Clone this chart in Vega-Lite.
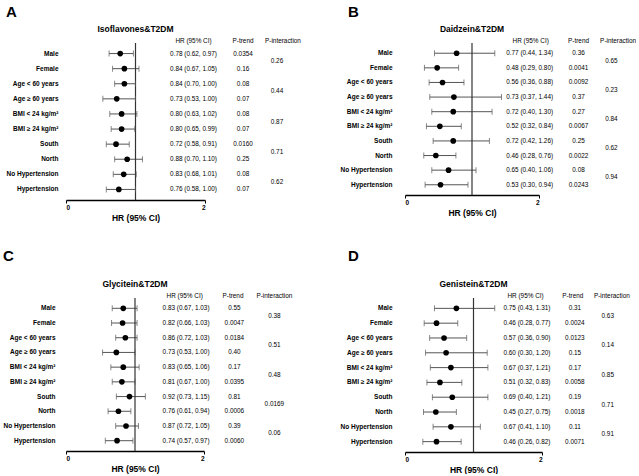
{
  "$schema": "https://vega.github.io/schema/vega-lite/v6.json",
  "padding": {"left": 2, "top": 4, "right": 0, "bottom": 0},
  "background": "white",
  "config": {
    "font": "Liberation Sans",
    "view": {"stroke": null},
    "text": {"color": "black"}
  },
  "datasets": {
    "A": [
      {"group": "Male", "hr": 0.78, "lo": 0.62, "hi": 0.97, "ci": "0.78 (0.62, 0.97)", "ptrend": "0.0354", "pint": "0.26"},
      {"group": "Female", "hr": 0.84, "lo": 0.67, "hi": 1.05, "ci": "0.84 (0.67, 1.05)", "ptrend": "0.16"},
      {"group": "Age < 60 years", "hr": 0.84, "lo": 0.70, "hi": 1.00, "ci": "0.84 (0.70, 1.00)", "ptrend": "0.08", "pint": "0.44"},
      {"group": "Age ≥ 60 years", "hr": 0.73, "lo": 0.53, "hi": 1.00, "ci": "0.73 (0.53, 1.00)", "ptrend": "0.07"},
      {"group": "BMI < 24 kg/m²", "hr": 0.80, "lo": 0.63, "hi": 1.02, "ci": "0.80 (0.63, 1.02)", "ptrend": "0.08", "pint": "0.87"},
      {"group": "BMI ≥ 24 kg/m²", "hr": 0.80, "lo": 0.65, "hi": 0.99, "ci": "0.80 (0.65, 0.99)", "ptrend": "0.07"},
      {"group": "South", "hr": 0.72, "lo": 0.58, "hi": 0.91, "ci": "0.72 (0.58, 0.91)", "ptrend": "0.0160", "pint": "0.71"},
      {"group": "North", "hr": 0.88, "lo": 0.70, "hi": 1.10, "ci": "0.88 (0.70, 1.10)", "ptrend": "0.25"},
      {"group": "No Hypertension", "hr": 0.83, "lo": 0.68, "hi": 1.01, "ci": "0.83 (0.68, 1.01)", "ptrend": "0.08", "pint": "0.62"},
      {"group": "Hypertension", "hr": 0.76, "lo": 0.58, "hi": 1.00, "ci": "0.76 (0.58, 1.00)", "ptrend": "0.07"}
    ],
    "B": [
      {"group": "Male", "hr": 0.77, "lo": 0.44, "hi": 1.34, "ci": "0.77 (0.44, 1.34)", "ptrend": "0.36", "pint": "0.65"},
      {"group": "Female", "hr": 0.48, "lo": 0.29, "hi": 0.80, "ci": "0.48 (0.29, 0.80)", "ptrend": "0.0041"},
      {"group": "Age < 60 years", "hr": 0.56, "lo": 0.36, "hi": 0.88, "ci": "0.56 (0.36, 0.88)", "ptrend": "0.0092", "pint": "0.23"},
      {"group": "Age ≥ 60 years", "hr": 0.73, "lo": 0.37, "hi": 1.44, "ci": "0.73 (0.37, 1.44)", "ptrend": "0.37"},
      {"group": "BMI < 24 kg/m²", "hr": 0.72, "lo": 0.40, "hi": 1.30, "ci": "0.72 (0.40, 1.30)", "ptrend": "0.27", "pint": "0.84"},
      {"group": "BMI ≥ 24 kg/m²", "hr": 0.52, "lo": 0.32, "hi": 0.84, "ci": "0.52 (0.32, 0.84)", "ptrend": "0.0067"},
      {"group": "South", "hr": 0.72, "lo": 0.42, "hi": 1.26, "ci": "0.72 (0.42, 1.26)", "ptrend": "0.25", "pint": "0.62"},
      {"group": "North", "hr": 0.46, "lo": 0.28, "hi": 0.76, "ci": "0.46 (0.28, 0.76)", "ptrend": "0.0022"},
      {"group": "No Hypertension", "hr": 0.65, "lo": 0.40, "hi": 1.06, "ci": "0.65 (0.40, 1.06)", "ptrend": "0.08", "pint": "0.94"},
      {"group": "Hypertension", "hr": 0.53, "lo": 0.30, "hi": 0.94, "ci": "0.53 (0.30, 0.94)", "ptrend": "0.0243"}
    ],
    "C": [
      {"group": "Male", "hr": 0.83, "lo": 0.67, "hi": 1.03, "ci": "0.83 (0.67, 1.03)", "ptrend": "0.55", "pint": "0.38"},
      {"group": "Female", "hr": 0.82, "lo": 0.66, "hi": 1.03, "ci": "0.82 (0.66, 1.03)", "ptrend": "0.0047"},
      {"group": "Age < 60 years", "hr": 0.86, "lo": 0.72, "hi": 1.03, "ci": "0.86 (0.72, 1.03)", "ptrend": "0.0184", "pint": "0.51"},
      {"group": "Age ≥ 60 years", "hr": 0.73, "lo": 0.53, "hi": 1.00, "ci": "0.73 (0.53, 1.00)", "ptrend": "0.40"},
      {"group": "BMI < 24 kg/m²", "hr": 0.83, "lo": 0.65, "hi": 1.06, "ci": "0.83 (0.65, 1.06)", "ptrend": "0.17", "pint": "0.48"},
      {"group": "BMI ≥ 24 kg/m²", "hr": 0.81, "lo": 0.67, "hi": 1.00, "ci": "0.81 (0.67, 1.00)", "ptrend": "0.0395"},
      {"group": "South", "hr": 0.92, "lo": 0.73, "hi": 1.15, "ci": "0.92 (0.73, 1.15)", "ptrend": "0.81", "pint": "0.0169"},
      {"group": "North", "hr": 0.76, "lo": 0.61, "hi": 0.94, "ci": "0.76 (0.61, 0.94)", "ptrend": "0.0006"},
      {"group": "No Hypertension", "hr": 0.87, "lo": 0.72, "hi": 1.05, "ci": "0.87 (0.72, 1.05)", "ptrend": "0.39", "pint": "0.06"},
      {"group": "Hypertension", "hr": 0.74, "lo": 0.57, "hi": 0.97, "ci": "0.74 (0.57, 0.97)", "ptrend": "0.0060"}
    ],
    "D": [
      {"group": "Male", "hr": 0.75, "lo": 0.43, "hi": 1.31, "ci": "0.75 (0.43, 1.31)", "ptrend": "0.31", "pint": "0.63"},
      {"group": "Female", "hr": 0.46, "lo": 0.28, "hi": 0.77, "ci": "0.46 (0.28, 0.77)", "ptrend": "0.0024"},
      {"group": "Age < 60 years", "hr": 0.57, "lo": 0.36, "hi": 0.90, "ci": "0.57 (0.36, 0.90)", "ptrend": "0.0123", "pint": "0.14"},
      {"group": "Age ≥ 60 years", "hr": 0.60, "lo": 0.30, "hi": 1.20, "ci": "0.60 (0.30, 1.20)", "ptrend": "0.15"},
      {"group": "BMI < 24 kg/m²", "hr": 0.67, "lo": 0.37, "hi": 1.21, "ci": "0.67 (0.37, 1.21)", "ptrend": "0.17", "pint": "0.85"},
      {"group": "BMI ≥ 24 kg/m²", "hr": 0.51, "lo": 0.32, "hi": 0.83, "ci": "0.51 (0.32, 0.83)", "ptrend": "0.0058"},
      {"group": "South", "hr": 0.69, "lo": 0.40, "hi": 1.21, "ci": "0.69 (0.40, 1.21)", "ptrend": "0.19", "pint": "0.71"},
      {"group": "North", "hr": 0.45, "lo": 0.27, "hi": 0.75, "ci": "0.45 (0.27, 0.75)", "ptrend": "0.0018"},
      {"group": "No Hypertension", "hr": 0.67, "lo": 0.41, "hi": 1.10, "ci": "0.67 (0.41, 1.10)", "ptrend": "0.11", "pint": "0.91"},
      {"group": "Hypertension", "hr": 0.46, "lo": 0.26, "hi": 0.82, "ci": "0.46 (0.26, 0.82)", "ptrend": "0.0071"}
    ]
  },
  "columns": 2,
  "spacing": {"row": 26, "column": 38},
  "concat": [
    {
      "title": {"text": "A", "fontSize": 15, "fontWeight": "bold", "anchor": "start", "frame": "bounds", "offset": 5},
      "vconcat": [
        {
          "width": 139, "height": 157,
          "title": {"text": "Isoflavones&T2DM", "fontSize": 8.5, "fontWeight": "bold", "offset": 5},
          "data": {"name": "A"},
          "layer": [
            {"mark": {"type": "rule", "color": "#555", "strokeWidth": 1},
             "encoding": {
               "x": {"field": "lo", "type": "quantitative", "scale": {"domain": [0, 2], "nice": false},
                     "axis": {"values": [0, 1, 2], "format": "d", "title": "HR (95% CI)", "titleFontSize": 8.5, "titleFontWeight": "bold", "titlePadding": 3, "labelFontSize": 6.5, "labelFontWeight": "bold", "labelColor": "black", "labelPadding": 1, "tickSize": 3, "tickColor": "black", "domainColor": "black", "domainWidth": 1.3, "grid": false, "titleColor": "black"}},
               "x2": {"field": "hi"},
               "y": {"field": "group", "type": "nominal", "sort": null,
                     "scale": {"domain": ["Male", "Female", "Age < 60 years", "Age ≥ 60 years", "BMI < 24 kg/m²", "BMI ≥ 24 kg/m²", "South", "North", "No Hypertension", "Hypertension"], "paddingInner": 0, "paddingOuter": 0.2},
                     "axis": {"title": null, "domain": false, "ticks": false, "labelFontSize": 6.5, "labelFontWeight": "bold", "labelColor": "black", "labelPadding": 8}}
             }},
            {"data": {"values": [{}]}, "mark": {"type": "rule", "color": "#333", "strokeWidth": 1.2}, "encoding": {"x": {"datum": 1, "type": "quantitative"}}},
            {"mark": {"type": "tick", "size": 6, "thickness": 1, "color": "#555"}, "encoding": {"x": {"field": "lo", "type": "quantitative"}, "y": {"field": "group", "type": "nominal"}}},
            {"mark": {"type": "tick", "size": 6, "thickness": 1, "color": "#555"}, "encoding": {"x": {"field": "hi", "type": "quantitative"}, "y": {"field": "group", "type": "nominal"}}},
            {"mark": {"type": "point", "filled": true, "size": 32, "color": "black", "opacity": 1}, "encoding": {"x": {"field": "hr", "type": "quantitative"}, "y": {"field": "group", "type": "nominal"}}},
            {"mark": {"type": "text", "fontSize": 6.4}, "encoding": {"x": {"datum": 1.835, "type": "quantitative"}, "y": {"field": "group", "type": "nominal"}, "text": {"field": "ci"}}},
            {"mark": {"type": "text", "fontSize": 6.4}, "encoding": {"x": {"datum": 2.547, "type": "quantitative"}, "y": {"field": "group", "type": "nominal"}, "text": {"field": "ptrend"}}},
            {"transform": [{"filter": "isValid(datum.pint)"}], "mark": {"type": "text", "fontSize": 6.4}, "encoding": {"x": {"datum": 3.036, "type": "quantitative"}, "y": {"field": "group", "type": "nominal", "bandPosition": 1}, "text": {"field": "pint"}}},
            {"data": {"values": [{}]}, "mark": {"type": "text", "fontSize": 6.4, "dy": -12.5, "text": "HR (95% CI)"}, "encoding": {"x": {"datum": 1.835, "type": "quantitative"}, "y": {"datum": "Male"}}},
            {"data": {"values": [{}]}, "mark": {"type": "text", "fontSize": 6.4, "dy": -12.5, "text": "P-trend"}, "encoding": {"x": {"datum": 2.547, "type": "quantitative"}, "y": {"datum": "Male"}}},
            {"data": {"values": [{}]}, "mark": {"type": "text", "fontSize": 6.4, "dy": -12.5, "text": "P-interaction"}, "encoding": {"x": {"datum": 3.122, "type": "quantitative"}, "y": {"datum": "Male"}}}
          ]
        }
      ]
    },
    {
      "title": {"text": "B", "fontSize": 15, "fontWeight": "bold", "anchor": "start", "frame": "bounds", "offset": 5, "dx": 8},
      "vconcat": [
        {
          "width": 134, "height": 152,
          "title": {"text": "Daidzein&T2DM", "fontSize": 8.5, "fontWeight": "bold", "offset": 5},
          "data": {"name": "B"},
          "layer": [
            {"mark": {"type": "rule", "color": "#555", "strokeWidth": 1},
             "encoding": {
               "x": {"field": "lo", "type": "quantitative", "scale": {"domain": [0, 2], "nice": false},
                     "axis": {"values": [0, 1, 2], "format": "d", "title": "HR (95% CI)", "titleFontSize": 8.5, "titleFontWeight": "bold", "titlePadding": 3, "labelFontSize": 6.5, "labelFontWeight": "bold", "labelColor": "black", "labelPadding": 1, "tickSize": 3, "tickColor": "black", "domainColor": "black", "domainWidth": 1.3, "grid": false, "titleColor": "black"}},
               "x2": {"field": "hi"},
               "y": {"field": "group", "type": "nominal", "sort": null,
                     "scale": {"domain": ["Male", "Female", "Age < 60 years", "Age ≥ 60 years", "BMI < 24 kg/m²", "BMI ≥ 24 kg/m²", "South", "North", "No Hypertension", "Hypertension"], "paddingInner": 0, "paddingOuter": 0.2},
                     "axis": {"title": null, "domain": false, "ticks": false, "labelFontSize": 6.5, "labelFontWeight": "bold", "labelColor": "black", "labelPadding": 13}}
             }},
            {"data": {"values": [{}]}, "mark": {"type": "rule", "color": "#333", "strokeWidth": 1.2}, "encoding": {"x": {"datum": 1, "type": "quantitative"}}},
            {"mark": {"type": "tick", "size": 6, "thickness": 1, "color": "#555"}, "encoding": {"x": {"field": "lo", "type": "quantitative"}, "y": {"field": "group", "type": "nominal"}}},
            {"mark": {"type": "tick", "size": 6, "thickness": 1, "color": "#555"}, "encoding": {"x": {"field": "hi", "type": "quantitative"}, "y": {"field": "group", "type": "nominal"}}},
            {"mark": {"type": "point", "filled": true, "size": 32, "color": "black", "opacity": 1}, "encoding": {"x": {"field": "hr", "type": "quantitative"}, "y": {"field": "group", "type": "nominal"}}},
            {"mark": {"type": "text", "fontSize": 6.4}, "encoding": {"x": {"datum": 1.86, "type": "quantitative"}, "y": {"field": "group", "type": "nominal"}, "text": {"field": "ci"}}},
            {"mark": {"type": "text", "fontSize": 6.4}, "encoding": {"x": {"datum": 2.59, "type": "quantitative"}, "y": {"field": "group", "type": "nominal"}, "text": {"field": "ptrend"}}},
            {"transform": [{"filter": "isValid(datum.pint)"}], "mark": {"type": "text", "fontSize": 6.4}, "encoding": {"x": {"datum": 3.08, "type": "quantitative"}, "y": {"field": "group", "type": "nominal", "bandPosition": 1}, "text": {"field": "pint"}}},
            {"data": {"values": [{}]}, "mark": {"type": "text", "fontSize": 6.4, "dy": -12, "text": "HR (95% CI)"}, "encoding": {"x": {"datum": 1.876, "type": "quantitative"}, "y": {"datum": "Male"}}},
            {"data": {"values": [{}]}, "mark": {"type": "text", "fontSize": 6.4, "dy": -12, "text": "P-trend"}, "encoding": {"x": {"datum": 2.59, "type": "quantitative"}, "y": {"datum": "Male"}}},
            {"data": {"values": [{}]}, "mark": {"type": "text", "fontSize": 6.4, "dy": -12, "text": "P-interaction"}, "encoding": {"x": {"datum": 3.18, "type": "quantitative"}, "y": {"datum": "Male"}}}
          ]
        }
      ]
    },
    {
      "title": {"text": "C", "fontSize": 15, "fontWeight": "bold", "anchor": "start", "frame": "bounds", "offset": 16},
      "vconcat": [
        {
          "width": 138, "height": 153,
          "title": {"text": "Glycitein&T2DM", "fontSize": 8.5, "fontWeight": "bold", "offset": 5},
          "data": {"name": "C"},
          "layer": [
            {"mark": {"type": "rule", "color": "#555", "strokeWidth": 1},
             "encoding": {
               "x": {"field": "lo", "type": "quantitative", "scale": {"domain": [0, 2], "nice": false},
                     "axis": {"values": [0, 1, 2], "format": "d", "title": "HR (95% CI)", "titleFontSize": 8.5, "titleFontWeight": "bold", "titlePadding": 3, "labelFontSize": 6.5, "labelFontWeight": "bold", "labelColor": "black", "labelPadding": 1, "tickSize": 3, "tickColor": "black", "domainColor": "black", "domainWidth": 1.3, "grid": false, "titleColor": "black"}},
               "x2": {"field": "hi"},
               "y": {"field": "group", "type": "nominal", "sort": null,
                     "scale": {"domain": ["Male", "Female", "Age < 60 years", "Age ≥ 60 years", "BMI < 24 kg/m²", "BMI ≥ 24 kg/m²", "South", "North", "No Hypertension", "Hypertension"], "paddingInner": 0, "paddingOuter": 0.2},
                     "axis": {"title": null, "domain": false, "ticks": false, "labelFontSize": 6.5, "labelFontWeight": "bold", "labelColor": "black", "labelPadding": 11}}
             }},
            {"data": {"values": [{}]}, "mark": {"type": "rule", "color": "#333", "strokeWidth": 1.2}, "encoding": {"x": {"datum": 1, "type": "quantitative"}}},
            {"mark": {"type": "tick", "size": 6, "thickness": 1, "color": "#555"}, "encoding": {"x": {"field": "lo", "type": "quantitative"}, "y": {"field": "group", "type": "nominal"}}},
            {"mark": {"type": "tick", "size": 6, "thickness": 1, "color": "#555"}, "encoding": {"x": {"field": "hi", "type": "quantitative"}, "y": {"field": "group", "type": "nominal"}}},
            {"mark": {"type": "point", "filled": true, "size": 32, "color": "black", "opacity": 1}, "encoding": {"x": {"field": "hr", "type": "quantitative"}, "y": {"field": "group", "type": "nominal"}}},
            {"mark": {"type": "text", "fontSize": 6.4}, "encoding": {"x": {"datum": 1.74, "type": "quantitative"}, "y": {"field": "group", "type": "nominal"}, "text": {"field": "ci"}}},
            {"mark": {"type": "text", "fontSize": 6.4}, "encoding": {"x": {"datum": 2.44, "type": "quantitative"}, "y": {"field": "group", "type": "nominal"}, "text": {"field": "ptrend"}}},
            {"transform": [{"filter": "isValid(datum.pint)"}], "mark": {"type": "text", "fontSize": 6.4}, "encoding": {"x": {"datum": 3.02, "type": "quantitative"}, "y": {"field": "group", "type": "nominal", "bandPosition": 1}, "text": {"field": "pint"}}},
            {"data": {"values": [{}]}, "mark": {"type": "text", "fontSize": 6.4, "dy": -12, "text": "HR (95% CI)"}, "encoding": {"x": {"datum": 1.72, "type": "quantitative"}, "y": {"datum": "Male"}}},
            {"data": {"values": [{}]}, "mark": {"type": "text", "fontSize": 6.4, "dy": -12, "text": "P-trend"}, "encoding": {"x": {"datum": 2.42, "type": "quantitative"}, "y": {"datum": "Male"}}},
            {"data": {"values": [{}]}, "mark": {"type": "text", "fontSize": 6.4, "dy": -12, "text": "P-interaction"}, "encoding": {"x": {"datum": 3.02, "type": "quantitative"}, "y": {"datum": "Male"}}}
          ]
        }
      ]
    },
    {
      "title": {"text": "D", "fontSize": 15, "fontWeight": "bold", "anchor": "start", "frame": "bounds", "offset": 16, "dx": 8},
      "vconcat": [
        {
          "width": 137, "height": 154,
          "title": {"text": "Genistein&T2DM", "fontSize": 8.5, "fontWeight": "bold", "offset": 5},
          "data": {"name": "D"},
          "layer": [
            {"mark": {"type": "rule", "color": "#555", "strokeWidth": 1},
             "encoding": {
               "x": {"field": "lo", "type": "quantitative", "scale": {"domain": [0, 2], "nice": false},
                     "axis": {"values": [0, 1, 2], "format": "d", "title": "HR (95% CI)", "titleFontSize": 8.5, "titleFontWeight": "bold", "titlePadding": 3, "labelFontSize": 6.5, "labelFontWeight": "bold", "labelColor": "black", "labelPadding": 1, "tickSize": 3, "tickColor": "black", "domainColor": "black", "domainWidth": 1.3, "grid": false, "titleColor": "black"}},
               "x2": {"field": "hi"},
               "y": {"field": "group", "type": "nominal", "sort": null,
                     "scale": {"domain": ["Male", "Female", "Age < 60 years", "Age ≥ 60 years", "BMI < 24 kg/m²", "BMI ≥ 24 kg/m²", "South", "North", "No Hypertension", "Hypertension"], "paddingInner": 0, "paddingOuter": 0.2},
                     "axis": {"title": null, "domain": false, "ticks": false, "labelFontSize": 6.5, "labelFontWeight": "bold", "labelColor": "black", "labelPadding": 13}}
             }},
            {"data": {"values": [{}]}, "mark": {"type": "rule", "color": "#333", "strokeWidth": 1.2}, "encoding": {"x": {"datum": 1, "type": "quantitative"}}},
            {"mark": {"type": "tick", "size": 6, "thickness": 1, "color": "#555"}, "encoding": {"x": {"field": "lo", "type": "quantitative"}, "y": {"field": "group", "type": "nominal"}}},
            {"mark": {"type": "tick", "size": 6, "thickness": 1, "color": "#555"}, "encoding": {"x": {"field": "hi", "type": "quantitative"}, "y": {"field": "group", "type": "nominal"}}},
            {"mark": {"type": "point", "filled": true, "size": 32, "color": "black", "opacity": 1}, "encoding": {"x": {"field": "hr", "type": "quantitative"}, "y": {"field": "group", "type": "nominal"}}},
            {"mark": {"type": "text", "fontSize": 6.4}, "encoding": {"x": {"datum": 1.78, "type": "quantitative"}, "y": {"field": "group", "type": "nominal"}, "text": {"field": "ci"}}},
            {"mark": {"type": "text", "fontSize": 6.4}, "encoding": {"x": {"datum": 2.48, "type": "quantitative"}, "y": {"field": "group", "type": "nominal"}, "text": {"field": "ptrend"}}},
            {"transform": [{"filter": "isValid(datum.pint)"}], "mark": {"type": "text", "fontSize": 6.4}, "encoding": {"x": {"datum": 2.96, "type": "quantitative"}, "y": {"field": "group", "type": "nominal", "bandPosition": 1}, "text": {"field": "pint"}}},
            {"data": {"values": [{}]}, "mark": {"type": "text", "fontSize": 6.4, "dy": -12, "text": "HR (95% CI)"}, "encoding": {"x": {"datum": 1.76, "type": "quantitative"}, "y": {"datum": "Male"}}},
            {"data": {"values": [{}]}, "mark": {"type": "text", "fontSize": 6.4, "dy": -12, "text": "P-trend"}, "encoding": {"x": {"datum": 2.45, "type": "quantitative"}, "y": {"datum": "Male"}}},
            {"data": {"values": [{}]}, "mark": {"type": "text", "fontSize": 6.4, "dy": -12, "text": "P-interaction"}, "encoding": {"x": {"datum": 3.02, "type": "quantitative"}, "y": {"datum": "Male"}}}
          ]
        }
      ]
    }
  ]
}
